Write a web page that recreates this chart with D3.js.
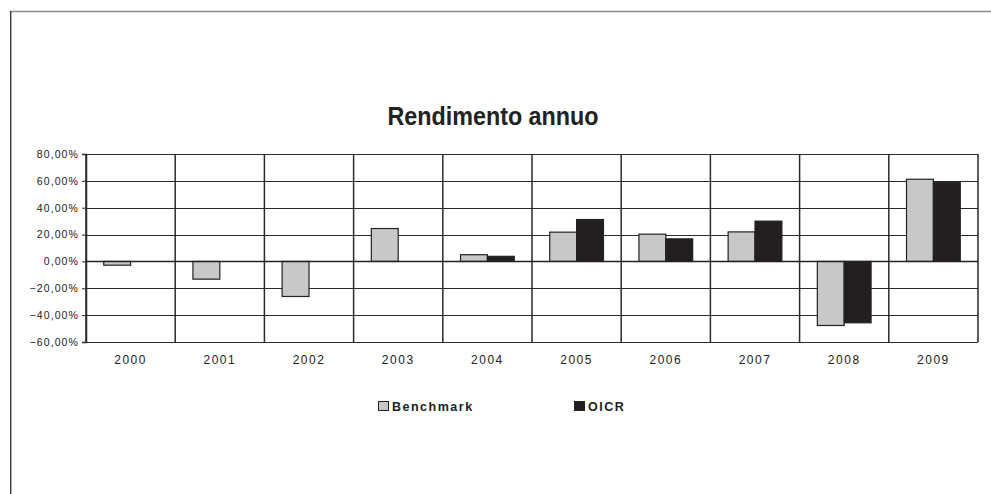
<!DOCTYPE html>
<html><head><meta charset="utf-8">
<script src="https://cdn.jsdelivr.net/npm/d3@7"></script>
<style>
html,body{margin:0;padding:0;background:#fff;}
svg{display:block;font-family:"Liberation Sans",Arial,sans-serif;}
</style></head>
<body>
<svg id="c" width="991" height="494"></svg>
<script>
const title = "Rendimento annuo";
const years = ["2000","2001","2002","2003","2004","2005","2006","2007","2008","2009"];
const seriesNames = ["Benchmark","OICR"];
const benchmark = [-2.8,-13.2,-26.1,24.5,5.0,21.8,20.3,22.0,-47.7,61.2];
const oicr = [null,null,null,null,3.8,31.2,16.8,30.0,-45.7,59.0];
const yTicks = [80,60,40,20,0,-20,-40,-60];
const colors = ["#c8c8c8","#231f20"];

const svg = d3.select("#c");
const M = {left:86, right:978, top:154, bottom:342};

// outer frame
svg.append("line").attr("x1",10).attr("x2",991).attr("y1",11.5).attr("y2",11.5)
  .attr("stroke","#8c8c8c").attr("stroke-width",1.5);
svg.append("line").attr("x1",10.7).attr("x2",10.7).attr("y1",11).attr("y2",494)
  .attr("stroke","#3a3a3a").attr("stroke-width",1.4);

const x = d3.scaleBand().domain(years).range([M.left,M.right]).paddingInner(0).paddingOuter(0);
const x1 = d3.scaleBand().domain(seriesNames).range([0,x.bandwidth()]).paddingOuter(0.66).paddingInner(0);
const y = d3.scaleLinear().domain([-60,80]).range([M.bottom,M.top]);

// horizontal gridlines
svg.append("g").selectAll("line").data(yTicks).join("line")
  .attr("x1",M.left).attr("x2",M.right)
  .attr("y1",d=>Math.round(y(d))+0.5).attr("y2",d=>Math.round(y(d))+0.5)
  .attr("stroke","#2a2a2a").attr("stroke-width",1.1);

// vertical category lines
const vx = years.map(d=>x(d)).concat([M.right]);
svg.append("g").selectAll("line").data(vx).join("line")
  .attr("x1",d=>d).attr("x2",d=>d).attr("y1",M.top).attr("y2",M.bottom)
  .attr("stroke","#2a2a2a").attr("stroke-width",1.5);

// y axis
const yAxis = d3.axisLeft(y).tickValues(yTicks).tickSize(4).tickPadding(3)
  .tickFormat(d=>d3.format(".2f")(d).replace(".",",")+"%");
const ga = svg.append("g").attr("transform",`translate(${M.left},0)`).call(yAxis);
ga.select(".domain").attr("stroke","#2a2a2a").attr("stroke-width",1.5);
ga.selectAll(".tick line").attr("stroke","#2a2a2a");
ga.selectAll("text").attr("font-size",10.5).attr("fill","#222").attr("letter-spacing","1.1px")
  .attr("font-family","'Liberation Sans',Arial,sans-serif");

// x axis labels
const xAxis = d3.axisBottom(x).tickSize(0).tickPadding(13);
const gx = svg.append("g").attr("transform",`translate(0,${M.bottom})`).call(xAxis);
gx.select(".domain").remove();
gx.selectAll("text").attr("font-size",12).attr("fill","#222").attr("letter-spacing","1.5px")
  .attr("font-family","'Liberation Sans',Arial,sans-serif");

// bars
const data = [benchmark, oicr];
data.forEach((vals,si)=>{
  svg.append("g").selectAll("rect").data(years.map((yr,i)=>({yr,v:vals[i]})).filter(d=>d.v!==null))
    .join("rect")
    .attr("x",d=>x(d.yr)+x1(seriesNames[si]))
    .attr("width",x1.bandwidth())
    .attr("y",d=>y(Math.max(0,d.v)))
    .attr("height",d=>Math.abs(y(d.v)-y(0)))
    .attr("fill",colors[si]).attr("stroke","#222").attr("stroke-width",1.2);
});
// zero line on top
svg.append("line").attr("x1",M.left).attr("x2",M.right)
  .attr("y1",y(0)).attr("y2",y(0)).attr("stroke","#222").attr("stroke-width",1.5);

// title
svg.append("text").attr("x",493).attr("y",125).attr("text-anchor","middle")
  .attr("font-size",26).attr("font-weight","bold").attr("fill","#222")
  .attr("textLength",211).attr("lengthAdjust","spacingAndGlyphs").text(title);

// legend
const legX = [378, 574];
seriesNames.forEach((n,i)=>{
  svg.append("rect").attr("x",legX[i]+0.5).attr("y",401.5).attr("width",10).attr("height",9)
    .attr("fill",colors[i]).attr("stroke","#222").attr("stroke-width",1);
  svg.append("text").attr("x",legX[i]+14).attr("y",411).attr("font-size",12.5)
    .attr("font-weight","bold").attr("fill","#222").attr("letter-spacing","1.5px").text(n);
});
</script>
</body></html>
